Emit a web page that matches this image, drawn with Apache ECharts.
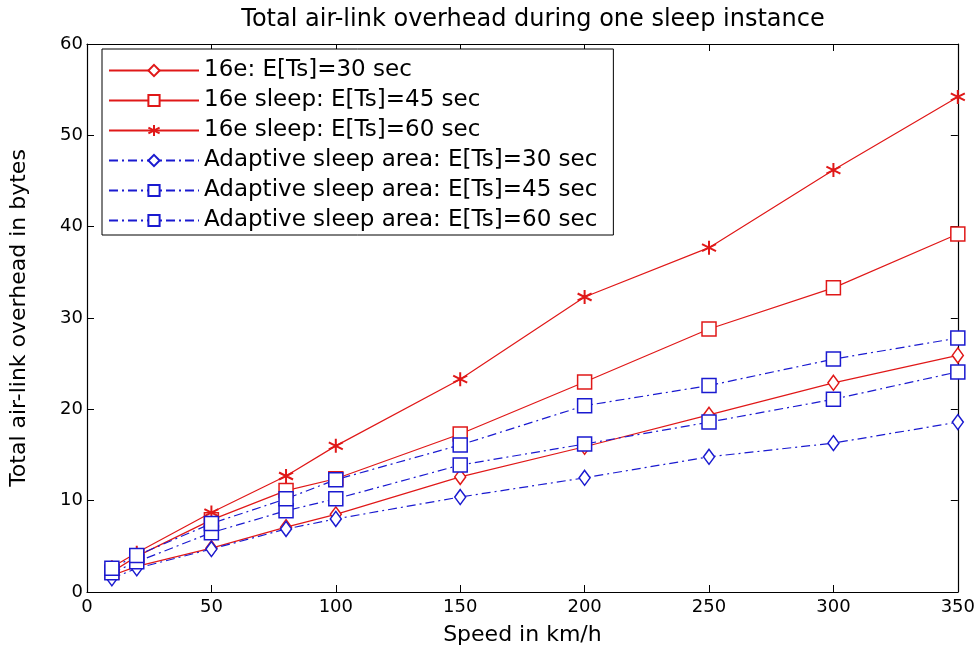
<!DOCTYPE html>
<html>
<head>
<meta charset="utf-8">
<script src="https://cdn.jsdelivr.net/npm/echarts@6/dist/echarts.min.js"></script>
<style>html,body{margin:0;padding:0;background:#fff}#c{width:978px;height:652px}</style>
</head>
<body>
<div id="c"></div>
<script>
var speeds = [10, 20, 50, 80, 100, 150, 200, 250, 300, 350];
var red30 = [1.8, 2.8, 4.8, 7.1, 8.5, 12.6, 15.9, 19.4, 22.9, 25.9];
var red45 = [2.2, 3.9, 7.9, 11.1, 12.4, 17.3, 23.0, 28.8, 33.3, 39.2];
var red60 = [2.7, 4.3, 8.7, 12.7, 16.0, 23.3, 32.3, 37.7, 46.2, 54.2];
var blue30 = [1.5, 2.6, 4.7, 6.9, 8.0, 10.4, 12.5, 14.8, 16.3, 18.6];
var blue45 = [2.1, 3.3, 6.5, 8.9, 10.2, 13.9, 16.2, 18.6, 21.1, 24.1];
var blue60 = [2.6, 4.0, 7.5, 10.2, 12.3, 16.1, 20.4, 22.6, 25.5, 27.8];
var names = ['16e: E[Ts]=30 sec', '16e sleep: E[Ts]=45 sec', '16e sleep: E[Ts]=60 sec',
  'Adaptive sleep area: E[Ts]=30 sec', 'Adaptive sleep area: E[Ts]=45 sec', 'Adaptive sleep area: E[Ts]=60 sec'];

var RED = '#e01818', BLUE = '#1a1ad0';
var FONT = 'DejaVu Sans, Verdana, sans-serif';
var star = 'path://M0,-10L0,10M-8.66,-5L8.66,5M-8.66,5L8.66,-5';

function pairs(vals) { return speeds.map(function (s, i) { return [s, vals[i]]; }); }
function mk(name, vals, color, symbol, size, dashed) {
  return {
    name: name, type: 'line', data: pairs(vals),
    symbol: symbol, symbolSize: size, showAllSymbol: true,
    lineStyle: { color: color, width: 1.2, type: dashed ? [9, 4, 2, 4] : 'solid' },
    itemStyle: { color: symbol === star ? color : '#fff', borderColor: color, borderWidth: symbol === star ? 2 : 1.5 },
    emphasis: { disabled: true }, animation: false, z: 3
  };
}
var axisCommon = {
  axisLine: { show: true, onZero: false, lineStyle: { color: '#000', width: 1.2 } },
  axisTick: { show: true, inside: true, length: 7, lineStyle: { color: '#000' } },
  splitLine: { show: false }
};

var chart = echarts.init(document.getElementById('c'));
var series = [
  mk(names[0], red30, RED, 'diamond', [11, 15], false),
  mk(names[1], red45, RED, 'rect', 14, false),
  mk(names[2], red60, RED, star, 14, false),
  mk(names[3], blue30, BLUE, 'diamond', [11, 15], true),
  mk(names[4], blue45, BLUE, 'rect', 14, true),
  mk(names[5], blue60, BLUE, 'rect', 14, true),
  { name: 'frame', type: 'line', xAxisIndex: 1, yAxisIndex: 1, data: [[0, 0]], symbol: 'none', silent: true,
    lineStyle: { opacity: 0 }, tooltip: { show: false } }
];
chart.setOption({
  backgroundColor: '#fff',
  animation: false,
  title: { text: 'Total air-link overhead during one sleep instance', left: 528, top: 3, textAlign: 'center',
    textStyle: { fontFamily: FONT, fontSize: 24, fontWeight: 'normal', color: '#000' } },
  grid: { left: 86, right: 20, top: 44, bottom: 60 },
  legend: {
    orient: 'vertical', left: 102, top: 49, data: names,
    itemWidth: 90, itemHeight: 14, itemGap: 7,
    padding: [10, 16, 3, 6],
    backgroundColor: '#fff', borderColor: '#000', borderWidth: 1,
    textStyle: { fontFamily: FONT, fontSize: 23, color: '#000' }
  },
  xAxis: [Object.assign({
    type: 'value', min: 0, max: 350, interval: 50,
    name: 'Speed in km/h', nameLocation: 'middle', nameGap: 32,
    nameTextStyle: { fontFamily: FONT, fontSize: 22, color: '#000' },
    axisLabel: { fontFamily: FONT, fontSize: 18, color: '#000', margin: 6 }
  }, axisCommon), Object.assign({
    type: 'value', min: 0, max: 350, interval: 50, position: 'top',
    axisLabel: { show: false }
  }, axisCommon)],
  yAxis: [Object.assign({
    type: 'value', min: 0, max: 60, interval: 10,
    name: 'Total air-link overhead in bytes', nameLocation: 'middle', nameGap: 57,
    nameTextStyle: { fontFamily: FONT, fontSize: 22, color: '#000' },
    axisLabel: { fontFamily: FONT, fontSize: 18, color: '#000', margin: 4 }
  }, axisCommon), Object.assign({
    type: 'value', min: 0, max: 60, interval: 10, position: 'right',
    axisLabel: { show: false }
  }, axisCommon)],
  series: series
});
</script>
</body>
</html>
